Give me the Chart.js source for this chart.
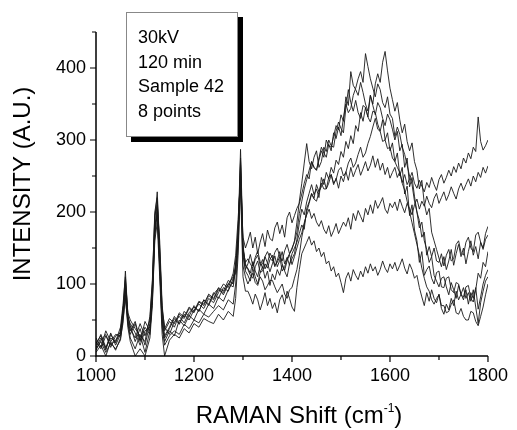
<!DOCTYPE html>
<html>
<head>
<meta charset="utf-8">
<script src="https://cdn.jsdelivr.net/npm/chart.js@4"></script>
<style>
  html, body { margin: 0; padding: 0; background: #fff; }
  #wrap { width: 517px; height: 430px; }
</style>
</head>
<body>
<div id="wrap"><canvas id="chart" width="517" height="430"></canvas></div>
<script>
// Raman shift positions (cm-1), finer around the peaks and the broad band
let shifts = [
    1000, 1010, 1020, 1030, 1040, 1050,
    1055, 1060, 1065,
    1070, 1080, 1090, 1100, 1110,
    1115, 1120, 1125, 1130, 1135,
    1140, 1150, 1160, 1170, 1180, 1190, 1200, 1210, 1220, 1230, 1240, 1250, 1260, 1270, 1280,
    1285, 1290, 1295, 1300, 1305,
    1310, 1315, 1320, 1325, 1330, 1335, 1340, 1345, 1350, 1355,
    1360, 1365, 1370, 1375, 1380, 1385, 1390, 1395, 1400, 1405,
    1410, 1415, 1420, 1425, 1430, 1435, 1440, 1445, 1450, 1455,
    1460, 1465, 1470, 1475, 1480, 1485, 1490, 1495, 1500, 1505,
    1510, 1515, 1520, 1525, 1530, 1535, 1540, 1545, 1550, 1555,
    1560, 1565, 1570, 1575, 1580, 1585, 1590, 1595, 1600, 1605,
    1610, 1615, 1620, 1625, 1630, 1635, 1640, 1645, 1650, 1655,
    1660, 1665, 1670, 1675, 1680, 1685, 1690, 1695, 1700, 1705,
    1710, 1715, 1720, 1725, 1730, 1735, 1740, 1745, 1750, 1755,
    1760, 1765, 1770, 1775, 1780, 1785, 1790, 1795, 1800
];

let s1 = [
    12, 25, 8, 30, 18, 35,
    60, 118, 55,
    42, 20, 38, 15, 45,
    95, 190, 228, 150, 60,
    35, 48, 40, 58, 52, 66, 60, 75, 70, 84, 78, 92, 88, 100, 96,
    120, 170, 287, 155, 125,
    122, 115, 131, 118, 110, 126, 134, 121, 129, 117,
    128, 139, 124, 133, 145, 128, 137, 126, 142, 150,
    158, 170, 182, 176, 205, 214, 226, 219, 238, 228,
    235, 246, 232, 240, 252, 238, 247, 233, 250, 242,
    256, 244, 262, 249, 258, 266, 251, 260, 270, 257,
    265, 278, 262, 274, 258, 268, 252, 262, 247, 255,
    262, 248, 256, 241, 252, 238, 246, 255, 240, 233,
    244, 236, 228, 241, 234, 248, 238, 230, 245, 252,
    240, 248, 258, 250, 263, 255, 268, 260, 275, 268,
    282, 274, 290, 284, 332, 298, 286, 292, 300
];
let s2 = [
    20, 10, 28, 15, 22, 30,
    55, 100, 50,
    35, 48, 22, 40, 30,
    85, 175, 215, 140, 55,
    28, 40, 55, 45, 62, 55, 70, 62, 78, 72, 88, 80, 95, 90, 108,
    115, 160, 275, 145, 120,
    128, 141, 125, 137, 146, 131, 122, 138, 129, 143,
    136, 124, 133, 145, 128, 119, 132, 141, 127, 138,
    150, 162, 171, 185, 196, 204, 191, 198, 186, 180,
    188, 176, 170, 181, 166, 174, 184, 170, 178, 186,
    180, 192, 176, 198, 188, 202, 194, 186, 205, 196,
    210, 198, 216, 205, 212, 220, 204, 198, 212, 206,
    214, 202, 218, 208, 199, 212, 205, 196, 210, 218,
    204, 215, 208, 222, 212, 206, 219, 226, 212, 220,
    228, 216, 224, 235, 226, 218, 232, 240, 230, 238,
    246, 236, 250, 242, 255, 248, 262, 254, 264
];
let s3 = [
    5, 15, 0, 20, 8, 25,
    45, 85, 40,
    20, 0, 10, 0, 25,
    70, 160, 185, 110, 30,
    0, 22, 30, 25, 38, 32, 45, 40, 52, 48, 45, 58, 50, 62, 55,
    80, 140, 235, 110, 90,
    90, 82, 72, 86, 78, 64, 75, 88, 70, 80,
    66, 74, 60, 78, 85, 72, 90, 80, 68, 62,
    95, 120, 142, 150, 158, 166, 154, 160, 145, 150,
    138, 144, 128, 132, 118, 124, 110, 115, 102, 88,
    108, 116, 104, 120, 112, 106, 118, 110, 124, 115,
    128, 118, 124, 112, 120, 132, 122, 116, 128, 121,
    130, 118, 126, 135, 122, 114, 128, 120, 108, 112,
    95, 82, 70, 88, 76, 92, 80, 74, 86, 66,
    58, 72, 64, 80, 70, 90, 78, 86, 95, 80,
    88, 76, 92, 68, 45, 74, 90, 104, 110
];
let s4 = [
    15, 30, 12, 25, 20, 40,
    70, 110, 58,
    38, 25, 45, 28, 50,
    100, 200, 220, 145, 65,
    40, 30, 48, 55, 46, 60, 68, 62, 78, 70, 86, 94, 85, 100, 110,
    125, 175, 255, 140, 118,
    112, 104, 122, 110, 100, 116, 124, 108, 118, 98,
    114, 106, 120, 112, 126, 118, 110, 128, 135, 142,
    162, 185, 204, 196, 214, 226, 238, 224, 232, 220,
    248, 238, 255, 246, 262, 254, 272, 266, 284, 276,
    298, 288, 306, 295, 320, 312, 338, 326, 345, 332,
    362, 350, 378, 392, 380, 408, 423, 396, 372, 356,
    340, 352, 328, 310, 322, 298, 285, 296, 270, 258,
    232, 244, 212, 196, 205, 172, 160, 148, 136, 124,
    138, 120, 132, 148, 126, 142, 155, 138, 150, 128,
    145, 160, 140, 152, 135, 158, 148, 162, 168
];
let s5 = [
    8, 22, 30, 12, 28, 32,
    65, 95, 52,
    45, 32, 15, 35, 40,
    90, 180, 195, 130, 50,
    25, 38, 52, 44, 58, 50, 64, 72, 66, 80, 74, 88, 100, 95, 115,
    140, 190, 245, 165, 150,
    160, 172, 150, 165, 142, 158, 170, 152, 175, 163,
    160, 178, 186, 170, 182, 165, 192, 200, 185, 195,
    205, 212, 225, 240, 252, 246, 270, 262, 258, 275,
    290, 282, 276, 294, 285, 310, 302, 318, 306, 330,
    350, 338, 344, 362, 372, 385, 395, 380, 420, 402,
    385, 372, 360, 378, 370, 352, 345, 360, 336, 330,
    305, 318, 308, 290, 280, 265, 250, 238, 215, 200,
    178, 186, 160, 148, 130, 138, 112, 104, 96, 108,
    110, 96, 85, 102, 92, 80, 98, 86, 78, 92,
    72, 88, 80, 95, 65, 82, 100, 112, 120
];
let s6 = [
    25, 12, 35, 20, 30, 28,
    58, 105, 60,
    50, 38, 28, 20, 55,
    105, 195, 210, 160, 70,
    38, 52, 45, 60, 54, 68, 62, 76, 72, 86, 80, 95, 90, 105, 100,
    128, 165, 270, 150, 128,
    120, 112, 108, 124, 132, 116, 118, 128, 122, 134,
    140, 126, 130, 138, 118, 124, 135, 142, 150, 158,
    172, 198, 215, 232, 245, 258, 270, 262, 258, 272,
    285, 276, 300, 292, 290, 305, 320, 314, 335, 326,
    360, 348, 395, 376, 370, 362, 380, 366, 350, 340,
    362, 348, 335, 352, 345, 330, 320, 336, 328, 315,
    300, 312, 285, 294, 262, 275, 235, 248, 222, 200,
    188, 165, 172, 140, 152, 138, 150, 132, 130, 142,
    125, 140, 148, 132, 135, 155, 160, 144, 140, 158,
    165, 150, 145, 168, 172, 158, 150, 170, 180
];
let s7 = [
    18, 28, 10, 32, 15, 30,
    62, 90, 48,
    30, 45, 20, 48, 35,
    80, 170, 205, 120, 45,
    20, 35, 28, 50, 42, 56, 50, 65, 58, 72, 66, 82, 76, 92, 104,
    122, 165, 265, 148, 130,
    135, 128, 122, 134, 140, 126, 128, 138, 145, 136,
    132, 144, 150, 138, 132, 146, 155, 142, 148, 160,
    185, 215, 240, 268, 295, 270, 260, 276, 285, 262,
    270, 290, 284, 300, 292, 290, 312, 325, 316, 310,
    345, 370, 352, 340, 355, 338, 330, 348, 345, 332,
    325, 340, 338, 322, 312, 328, 300, 310, 285, 296,
    270, 282, 250, 262, 225, 236, 195, 210, 175, 160,
    130, 145, 112, 120, 125, 108, 100, 116, 118, 96,
    95, 108, 110, 92, 88, 102, 100, 85, 82, 96,
    98, 80, 75, 92, 115, 108, 130, 124, 145
];
let s8 = [
    10, 20, 5, 18, 10, 22,
    50, 80, 45,
    25, 10, 30, 5, 35,
    75, 165, 200, 125, 40,
    15, 28, 35, 30, 44, 38, 50, 46, 58, 54, 62, 70, 64, 78, 72,
    100, 150, 250, 125, 110,
    100, 108, 115, 102, 98, 110, 104, 92, 98, 105,
    105, 96, 88, 94, 100, 86, 80, 92, 95, 108,
    120, 140, 165, 182, 200, 212, 225, 218, 215, 228,
    240, 232, 232, 248, 252, 240, 245, 258, 262, 250,
    255, 268, 275, 262, 268, 280, 290, 276, 282, 295,
    305, 318, 330, 315, 312, 298, 300, 288, 290, 275,
    270, 262, 255, 240, 230, 215, 200, 185, 170, 155,
    140, 122, 108, 96, 90, 78, 72, 80, 85, 70,
    70, 60, 62, 72, 78, 60, 58, 66, 55, 50,
    50, 62, 60, 48, 42, 55, 68, 85, 100
];

let series = [s1, s2, s3, s4, s5, s6, s7, s8];

let xTicks = [1000, 1200, 1400, 1600, 1800];
let xMinor = [1100, 1300, 1500, 1700];
let yTicks = [0, 100, 200, 300, 400];
let yMinor = [50, 150, 250, 350, 450];

let noteLines = ['30kV', '120 min', 'Sample 42', '8 points'];
let yTitle = 'INTENSITY (A.U.)';
let xTitle = ['RAMAN Shift (cm', '-1', ')'];

series.forEach((s, i) => {
    if (s.length !== shifts.length) {
        throw new Error('series ' + (i + 1) + ' has ' + s.length + ' values, expected ' + shifts.length);
    }
});

let fontFamily = 'Arial, "Liberation Sans", Helvetica, sans-serif';
Chart.defaults.font.family = fontFamily;
Chart.defaults.color = '#000';

let datasets = series.map((s, i) => ({
    label: 'Point ' + (i + 1),
    data: shifts.map((x, j) => ({ x: x, y: s[j] })),
    borderColor: 'rgba(25, 25, 25, 0.9)',
    borderWidth: 1,
    pointRadius: 0,
    fill: false,
    tension: 0
}));

// axes, tick marks, axis titles and the note box
let frame = {
    id: 'frame',
    afterDatasetsDraw(chart) {
        let ctx = chart.ctx;
        let xs = chart.scales.x;
        let ys = chart.scales.y;
        let left = xs.left, right = xs.right, top = ys.top, bottom = ys.bottom;

        ctx.save();
        ctx.strokeStyle = '#000';
        ctx.lineWidth = 1.5;
        ctx.beginPath();
        ctx.moveTo(left, top);
        ctx.lineTo(left, bottom);
        ctx.lineTo(right, bottom);
        ctx.stroke();

        ctx.lineWidth = 1.2;
        ctx.beginPath();
        xTicks.forEach(v => {
            let p = xs.getPixelForValue(v);
            ctx.moveTo(p, bottom); ctx.lineTo(p, bottom + 6);
        });
        xMinor.forEach(v => {
            let p = xs.getPixelForValue(v);
            ctx.moveTo(p, bottom); ctx.lineTo(p, bottom + 4);
        });
        yTicks.forEach(v => {
            let p = ys.getPixelForValue(v);
            ctx.moveTo(left, p); ctx.lineTo(left - 6, p);
        });
        yMinor.forEach(v => {
            let p = ys.getPixelForValue(v);
            ctx.moveTo(left, p); ctx.lineTo(left - 4, p);
        });
        ctx.stroke();

        // y title
        ctx.fillStyle = '#000';
        ctx.save();
        ctx.translate(23, 184);
        ctx.rotate(-Math.PI / 2);
        ctx.font = '24px ' + fontFamily;
        ctx.textAlign = 'center';
        ctx.textBaseline = 'middle';
        ctx.fillText(yTitle, 0, 0);
        ctx.restore();

        // x title with superscript
        ctx.textBaseline = 'alphabetic';
        ctx.textAlign = 'left';
        ctx.font = '24px ' + fontFamily;
        let w1 = ctx.measureText(xTitle[0]).width;
        let w3 = ctx.measureText(xTitle[2]).width;
        ctx.font = '12px ' + fontFamily;
        let w2 = ctx.measureText(xTitle[1]).width;
        let sx = (left + right) / 2 + 7 - (w1 + w2 + w3) / 2;
        ctx.font = '24px ' + fontFamily;
        ctx.fillText(xTitle[0], sx, 423);
        ctx.font = '12px ' + fontFamily;
        ctx.fillText(xTitle[1], sx + w1, 412);
        ctx.font = '24px ' + fontFamily;
        ctx.fillText(xTitle[2], sx + w1 + w2, 423);

        // note box with drop shadow
        ctx.fillStyle = '#000';
        ctx.fillRect(131, 17, 112, 125);
        ctx.fillStyle = '#fff';
        ctx.fillRect(126, 12, 112, 125);
        ctx.strokeStyle = '#888';
        ctx.lineWidth = 1;
        ctx.strokeRect(126.5, 12.5, 111, 124);
        ctx.fillStyle = '#000';
        ctx.font = '18px ' + fontFamily;
        ctx.textBaseline = 'middle';
        noteLines.forEach((t, i) => {
            ctx.fillText(t, 138, 38 + i * 24.7);
        });
        ctx.restore();
    }
};

let myChart = new Chart(document.getElementById('chart'), {
    type: 'line',
    data: { datasets: datasets },
    options: {
        responsive: false,
        animation: false,
        events: [],
        layout: { padding: { top: 32, right: 23, left: 0, bottom: 0 } },
        plugins: { legend: { display: false }, tooltip: { enabled: false } },
        scales: {
            x: {
                type: 'linear',
                min: 1000,
                max: 1800,
                grid: { display: false, drawTicks: false },
                border: { display: false },
                afterBuildTicks: s => { s.ticks = xTicks.map(v => ({ value: v })); },
                afterFit: s => { s.height = 74; },
                ticks: {
                    font: { size: 18 }, color: '#000', padding: 9, maxRotation: 0, autoSkip: false,
                    callback: v => String(v)
                }
            },
            y: {
                min: 0,
                max: 450,
                grid: { display: false, drawTicks: false },
                border: { display: false },
                afterBuildTicks: s => { s.ticks = yTicks.map(v => ({ value: v })); },
                afterFit: s => { s.width = 96; },
                ticks: { font: { size: 18 }, color: '#000', padding: 10, callback: v => String(v) }
            }
        }
    },
    plugins: [frame]
});
</script>
</body>
</html>
